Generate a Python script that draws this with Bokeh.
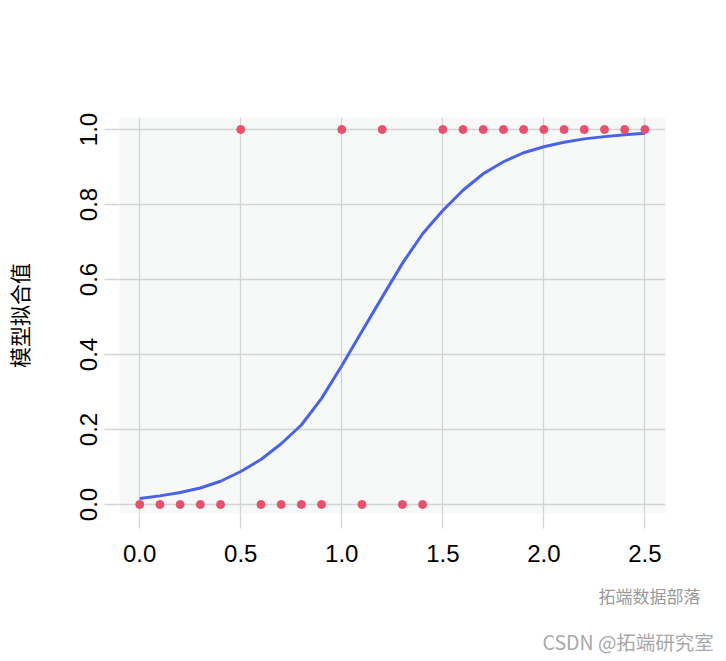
from bokeh.plotting import figure
from bokeh.models import Range1d, FixedTicker, PrintfTickFormatter, Title
from bokeh.embed import file_html
from bokeh.resources import INLINE

# data
x_obs = [0.0, 0.1, 0.2, 0.3, 0.4, 0.5, 0.6, 0.7, 0.8, 0.9, 1.0, 1.1, 1.2,
         1.3, 1.4, 1.5, 1.6, 1.7, 1.8, 1.9, 2.0, 2.1, 2.2, 2.3, 2.4, 2.5]
y_obs = [0, 0, 0, 0, 0, 1, 0, 0, 0, 0, 1, 0, 1,
         0, 0, 1, 1, 1, 1, 1, 1, 1, 1, 1, 1, 1]
y_fit = [0.016, 0.023, 0.032, 0.044, 0.062, 0.088, 0.120, 0.162, 0.212, 0.283,
         0.370, 0.462, 0.553, 0.643, 0.722, 0.784, 0.838, 0.882, 0.914, 0.938,
         0.954, 0.966, 0.975, 0.981, 0.986, 0.990]
x_ticks = [0.0, 0.5, 1.0, 1.5, 2.0, 2.5]
y_ticks = [0.0, 0.2, 0.4, 0.6, 0.8, 1.0]
y_title = "模型拟合值"
wm1 = "拓端数据部落"
wm2 = "CSDN @拓端研究室"

p = figure(width=718, height=658, output_backend="svg", toolbar_location=None,
           x_range=Range1d(-0.100, 2.602), y_range=Range1d(-0.024, 1.032),
           min_border_left=117, min_border_right=53, min_border_top=117,
           min_border_bottom=145)
p.background_fill_color = "#F7F9F8"
p.border_fill_color = "white"
p.outline_line_color = None

grid_col = "#D4D4D4"
p.xgrid.grid_line_color = grid_col
p.ygrid.grid_line_color = grid_col
p.xgrid.grid_line_width = 1.3
p.ygrid.grid_line_width = 1.3

for ax in (p.xaxis[0], p.yaxis[0]):
    ax.axis_line_color = None
    ax.major_tick_in = 0
    ax.major_tick_out = 15
    ax.major_tick_line_color = grid_col
    ax.major_tick_line_width = 1.3
    ax.minor_tick_line_color = None
    ax.major_label_text_font = "Liberation Sans"
    ax.major_label_text_font_size = "24px"
    ax.major_label_text_color = "black"
    ax.formatter = PrintfTickFormatter(format="%.1f")

p.xaxis[0].ticker = FixedTicker(ticks=x_ticks)
p.yaxis[0].ticker = FixedTicker(ticks=y_ticks)
p.xaxis[0].major_label_standoff = 16
p.yaxis[0].major_label_standoff = 8
p.yaxis[0].major_label_orientation = "vertical"
p.yaxis[0].axis_label = y_title
p.yaxis[0].axis_label_text_font = "Noto Sans CJK SC"
p.yaxis[0].axis_label_text_font_size = "21px"
p.yaxis[0].axis_label_text_font_style = "normal"
p.yaxis[0].axis_label_text_color = "black"
p.yaxis[0].axis_label_standoff = 43

p.line(x_obs, y_fit, line_color="#4A62E8", line_width=3)
p.scatter(x_obs, y_obs, size=8, fill_color="#E8506D", line_color="#E8506D")

t1 = Title(text=wm1, align="left", offset=479, standoff=32,
           text_font="Noto Sans CJK SC", text_font_size="17px",
           text_font_style="normal", text_color="#9a9a9a")
t2 = Title(text=wm2, align="left", offset=423, standoff=3,
           text_font="Noto Sans CJK SC", text_font_size="19.5px",
           text_font_style="normal", text_color="#a8a8a8")
p.add_layout(t1, "below")
p.add_layout(t2, "below")

open("out.html", "w").write(file_html(p, INLINE))
